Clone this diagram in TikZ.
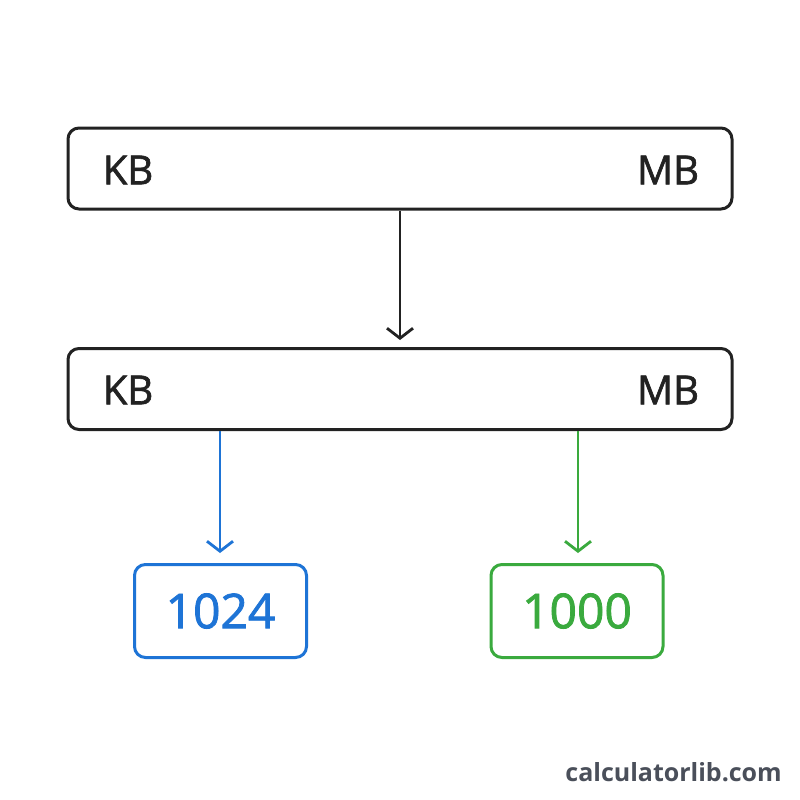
\documentclass[tikz,border=0pt]{standalone}
\usepackage{fontspec}
\setmainfont{Open Sans}
\newfontfamily\medfont{Open Sans}[FakeBold=1.6]
\usetikzlibrary{arrows.meta}
\definecolor{lineblack}{HTML}{222222}
\definecolor{myblue}{HTML}{1E74D6}
\definecolor{mygreen}{HTML}{3AAA3E}
\definecolor{brandgray}{HTML}{4A4F5A}
\begin{document}
\begin{tikzpicture}[x=1pt,y=-1pt,
  bar/.style={draw=lineblack,line width=3pt,rounded corners=11pt,minimum width=664pt,minimum height=81pt,inner sep=0pt},
  unit/.style={font=\medfont\fontsize{40}{44}\selectfont,text=lineblack,anchor=center,inner sep=0pt},
  resbox/.style={line width=3pt,rounded corners=11pt,minimum width=172pt,minimum height=93pt,inner sep=0pt,font=\medfont\fontsize{48}{52}\selectfont},
  conn/.style={line width=2.8pt,-{Straight Barb[length=10pt,width=26pt,line width=2.8pt]}}]
\useasboundingbox (0,0) rectangle (800,800);
\fill[white] (0,0) rectangle (800,800);
\node[bar] (top) at (400,168.5) {};
\node[unit] (kb1) at (128,170) {KB};
\node[unit] (mb1) at (668,170) {MB};
\node[bar] (mid) at (400,389) {};
\node[unit] (kb2) at (128,390) {KB};
\node[unit] (mb2) at (668,390) {MB};
\node[resbox,draw=myblue,text=myblue] (bin) at (220.5,611) {1024};
\node[resbox,draw=mygreen,text=mygreen] (dec) at (577,611) {1000};
\node[font=\bfseries\fontsize{25}{28}\selectfont,text=brandgray,anchor=east,inner sep=0pt] (brand) at (782,772) {calculatorlib.com};
\coordinate (a1) at (400,340);
\coordinate (b1) at (220,553);
\coordinate (c1) at (578,553);
\draw[conn,draw=lineblack] (top.south) -- (a1);
\draw[conn,draw=myblue] (mid.south -| b1) -- (b1);
\draw[conn,draw=mygreen] (mid.south -| c1) -- (c1);
\end{tikzpicture}
\end{document}
